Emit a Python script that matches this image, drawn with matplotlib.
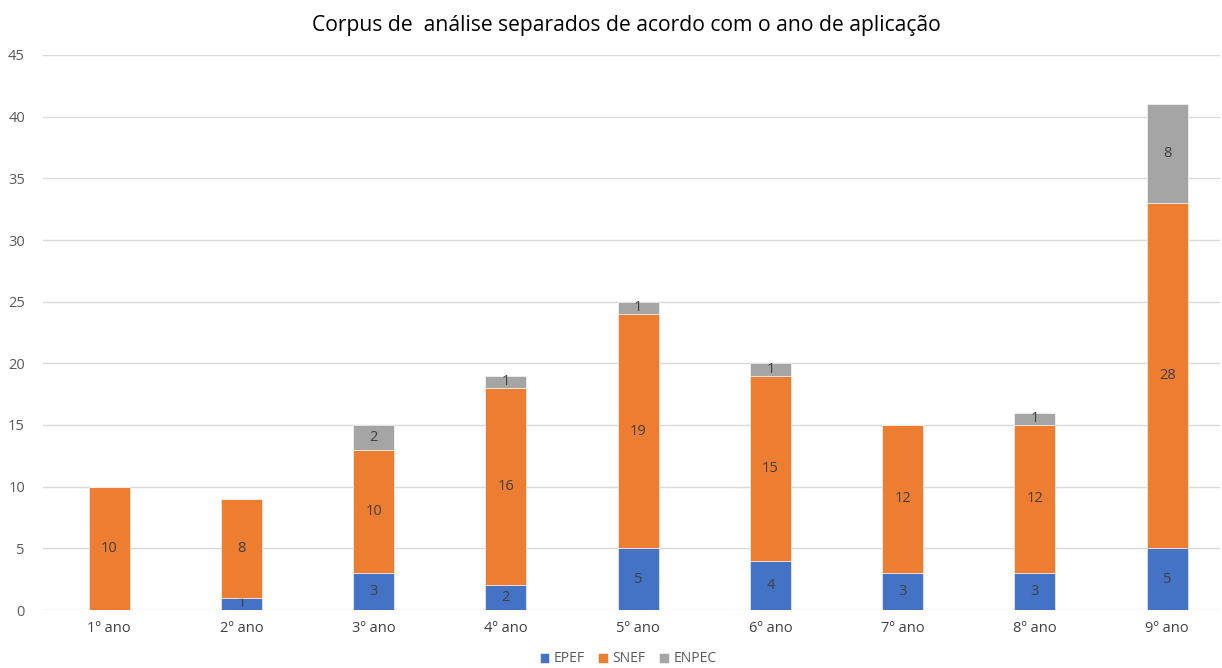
import matplotlib

matplotlib.use("Agg")
import matplotlib.pyplot as plt
import numpy as np

# Chart data.
categories = ["1º ano", "2º ano", "3º ano", "4º ano", "5º ano",
              "6º ano", "7º ano", "8º ano", "9º ano"]
epef = [0, 1, 3, 2, 5, 4, 3, 3, 5]
snef = [10, 8, 10, 16, 19, 15, 12, 12, 28]
enpec = [0, 0, 2, 1, 1, 1, 0, 1, 8]
series_names = ["EPEF", "SNEF", "ENPEC"]
y_ticks = [0, 5, 10, 15, 20, 25, 30, 35, 40, 45]

colors = ["#4472C4", "#ED7D31", "#A5A5A5"]
plt.rcParams["font.family"] = ["Open Sans", "DejaVu Sans"]

fig = plt.figure(figsize=(12.22, 6.68), dpi=100)
ax = fig.add_axes([43 / 1222, 58 / 668, (1220 - 43) / 1222, (610 - 55) / 668])

x = np.arange(len(categories))
bottom = np.zeros(len(categories))
for name, values, color in zip(series_names, [epef, snef, enpec], colors):
    values = np.array(values, dtype=float)
    bars = ax.bar(x, values, width=0.31, bottom=bottom, color=color,
                  edgecolor="white", linewidth=0.4, label=name, zorder=3)
    labels = [f"{int(v)}" if v > 0 else "" for v in values]
    ax.bar_label(bars, labels=labels, label_type="center",
                 fontsize=10.5, color="#404040")
    bottom += values

ax.set_xlim(-0.5, -0.5 + (1220 - 43) / 132.25)
ax.set_ylim(0, 45)
ax.set_yticks(y_ticks)
ax.set_xticks(x)
ax.set_xticklabels(categories, fontsize=10.5, color="#404040")
ax.tick_params(axis="y", labelsize=10.5, labelcolor="#595959", length=0, pad=13)
ax.tick_params(axis="x", length=0, pad=8)
ax.grid(axis="y", color="#D9D9D9", linewidth=1, zorder=0)
for spine in ax.spines.values():
    spine.set_visible(False)

fig.text(0.5 + 15 / 1222, 1 - 25 / 668,
         "Corpus de  análise separados de acordo com o ano de aplicação",
         ha="center", va="center", fontsize=15.2, color="#000000")

fig.legend(loc="center", bbox_to_anchor=(0.5 + 17 / 1222, 1 - 659 / 668), ncol=3,
           frameon=False, fontsize=10, handlelength=0.7, handleheight=0.7,
           handletextpad=0.3, columnspacing=1.0, labelcolor="#595959")

fig.savefig("out.png", dpi=100)
